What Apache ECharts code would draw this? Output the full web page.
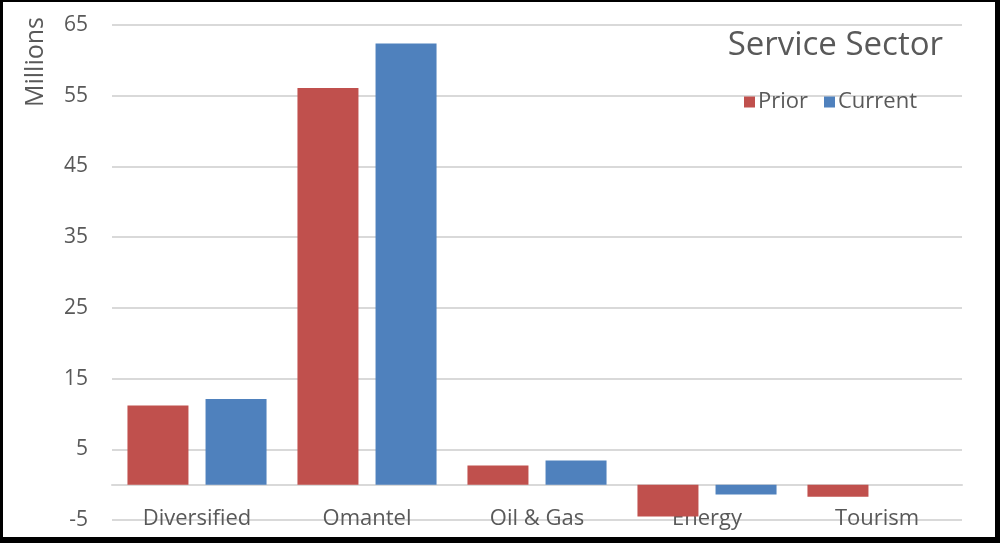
<!DOCTYPE html>
<html>
<head>
<meta charset="utf-8">
<script src="https://cdn.jsdelivr.net/npm/echarts@6/dist/echarts.min.js"></script>
<style>
  html, body { margin: 0; padding: 0; background: #fff; }
  #chart { width: 1000px; height: 543px; }
</style>
</head>
<body>
<div id="chart"></div>
<script>
var categories = ['Diversified', 'Omantel', 'Oil & Gas', 'Energy', 'Tourism'];
var prior = [11.2, 56.1, 2.7, -4.5, -1.7];
var current = [12.1, 62.4, 3.4, -1.4, 0];
var yMin = -5;
var yMax = 65;
var yStep = 10;

var textColor = '#595959';
var font = '"Open Sans", sans-serif';

var chart = echarts.init(document.getElementById('chart'));
var option = {
    animation: false,
    backgroundColor: '#fff',
    title: {
        text: 'Service Sector',
        right: 52,
        top: 24,
        textStyle: { color: textColor, fontSize: 33, fontWeight: 'normal', fontFamily: font }
    },
    legend: {
        data: ['Prior', 'Current'],
        right: 78,
        top: 86,
        itemWidth: 11,
        itemHeight: 11,
        itemGap: 16,
        icon: 'rect',
        textStyle: { color: textColor, fontSize: 22, fontFamily: font, padding: [0, 0, 0, -2] }
    },
    grid: { left: 112, right: 38, top: 25, bottom: 23, containLabel: false, outerBoundsMode: 'none' },
    xAxis: {
        type: 'category',
        data: categories,
        axisLine: { onZero: true, lineStyle: { color: '#D9D9D9', width: 2 } },
        axisTick: { show: false },
        axisLabel: { color: textColor, fontSize: 22, fontFamily: font, margin: -12 }
    },
    yAxis: {
        type: 'value',
        min: yMin,
        max: yMax,
        interval: yStep,
        axisLine: { show: false },
        axisTick: { show: false },
        splitLine: { lineStyle: { color: '#D9D9D9', width: 2 } },
        axisLabel: { color: textColor, fontSize: 21, fontFamily: font, margin: 24 }
    },
    graphic: [
        {
            type: 'text',
            x: 36,
            y: 62,
            rotation: Math.PI / 2,
            style: {
                text: 'Millions',
                fill: textColor,
                font: '25px ' + font,
                textAlign: 'center',
                textVerticalAlign: 'middle'
            }
        },
        { type: 'rect', shape: { x: 0, y: 0, width: 1000, height: 2 }, style: { fill: '#000' }, z: 100 },
        { type: 'rect', shape: { x: 0, y: 0, width: 3, height: 543 }, style: { fill: '#000' }, z: 100 },
        { type: 'rect', shape: { x: 995, y: 0, width: 5, height: 543 }, style: { fill: '#000' }, z: 100 },
        { type: 'rect', shape: { x: 0, y: 537, width: 1000, height: 6 }, style: { fill: '#000' }, z: 100 }
    ],
    series: [
        {
            name: 'Prior',
            type: 'bar',
            data: prior,
            barWidth: 61,
            barGap: '28%',
            itemStyle: { color: '#C0504D' }
        },
        {
            name: 'Current',
            type: 'bar',
            data: current,
            barWidth: 61,
            itemStyle: { color: '#4F81BD' }
        }
    ]
};
chart.setOption(option);
</script>
</body>
</html>
